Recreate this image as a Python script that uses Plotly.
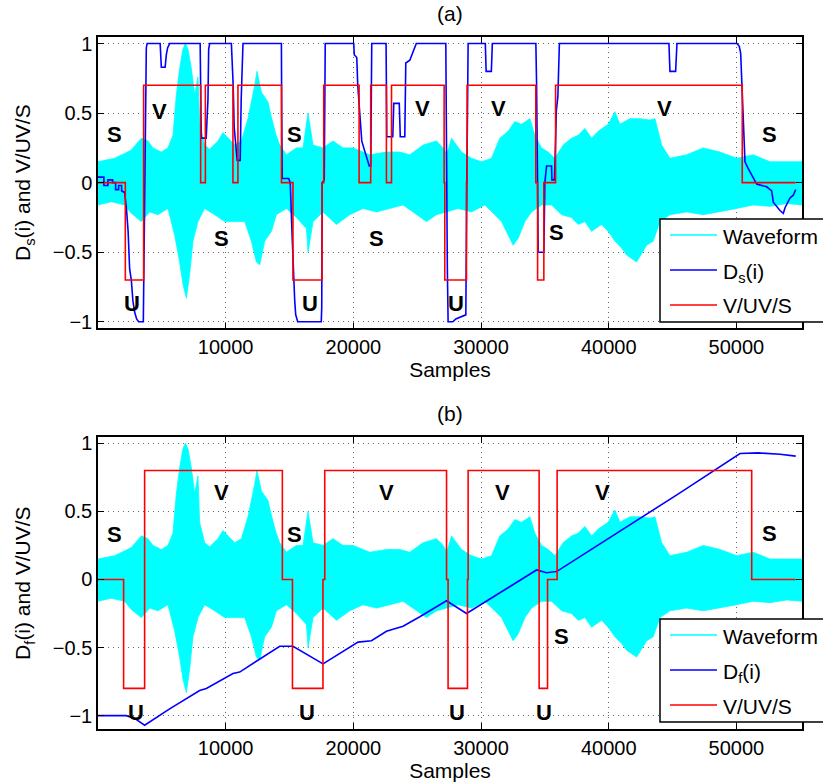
import plotly.graph_objects as go
from plotly.subplots import make_subplots

# ---------------- data ----------------
# Speech waveform drawn as upper / lower envelope (same signal in both panels)
wave_up_x = [0, 517, 1301, 2085, 2610, 3393, 3911, 4303, 4961, 5478, 5870, 6136, 6395, 6654, 6842,
             7046, 7312, 7571, 7829, 7962, 8354, 8746, 9397, 9789, 10180, 10706, 11230, 11748, 12273,
             12453, 12798, 13315, 13527, 13919, 14232, 14757, 15541, 16058, 16450, 16842, 17625, 18409,
             19193, 19976, 21285, 22594, 23636, 24420, 25463, 26513, 27030, 27320, 27688, 28472, 29255,
             30039, 30823, 31473, 32124, 32649, 33174, 33825, 34216, 34741, 35258, 35783, 36434, 37093,
             37610, 38135, 38660, 39178, 39961, 40487, 40878, 41662, 42446, 43230, 43622, 44147, 44797,
             46106, 47406, 48715, 50024, 51325, 52634, 53943, 55142]
wave_up_y = [0.15, 0.16, 0.175, 0.21, 0.235, 0.32, 0.30, 0.25, 0.22, 0.25, 0.34, 0.63, 0.82, 0.96, 1.0,
             0.96, 0.82, 0.63, 0.76, 0.42, 0.27, 0.24, 0.30, 0.36, 0.32, 0.27, 0.30, 0.46, 0.70,
             0.80, 0.65, 0.58, 0.49, 0.35, 0.27, 0.20, 0.25, 0.25, 0.50, 0.27, 0.25, 0.30,
             0.25, 0.25, 0.20, 0.22, 0.22, 0.20, 0.27, 0.30, 0.25, 0.20, 0.32, 0.22, 0.175,
             0.15, 0.175, 0.32, 0.37, 0.44, 0.42, 0.46, 0.34, 0.25, 0.22, 0.175, 0.27, 0.32,
             0.34, 0.39, 0.32, 0.37, 0.42, 0.51, 0.42, 0.46, 0.46, 0.45, 0.46, 0.27, 0.175,
             0.20, 0.25, 0.22, 0.175, 0.20, 0.15, 0.15, 0.15]
wave_lo_x = [0, 1042, 2085, 2610, 3393, 4044, 4694, 5478, 6003, 6395, 6654, 6920, 7179, 7437, 7829,
             8354, 9138, 9922, 10706, 11490, 12014, 12406, 12665, 13057, 13582, 13973, 14757, 15541,
             16325, 16450, 16842, 17625, 18676, 19718, 20760, 21811, 22853, 23895, 24945, 25729, 26513,
             27296, 28206, 29255, 30298, 31082, 31607, 32124, 32516, 32908, 33433, 33958, 34741, 35526,
             36309, 37093, 37610, 38135, 38660, 39444, 39961, 40487, 41012, 41404, 42188, 42971, 43489,
             44013, 44797, 46106, 47406, 48715, 50024, 51325, 52634, 53943, 55142]
wave_lo_y = [-0.16, -0.137, -0.16, -0.22, -0.28, -0.21, -0.23, -0.185, -0.376, -0.57, -0.73, -0.83, -0.66,
             -0.42, -0.28, -0.185, -0.23, -0.28, -0.28, -0.28, -0.42, -0.57, -0.59, -0.42, -0.35, -0.23,
             -0.185, -0.25, -0.33, -0.50, -0.28, -0.21, -0.30, -0.23, -0.185, -0.21, -0.185, -0.16, -0.23,
             -0.28, -0.23, -0.21, -0.185, -0.21, -0.16, -0.23, -0.28, -0.376, -0.45, -0.40, -0.28, -0.21,
             -0.16, -0.16, -0.23, -0.25, -0.30, -0.28, -0.35, -0.30, -0.35, -0.42, -0.47, -0.52, -0.57,
             -0.45, -0.42, -0.28, -0.23, -0.21, -0.23, -0.21, -0.185, -0.16, -0.17, -0.15, -0.16]

# Panel (a): Ds(i)
ds_x = [0, 462, 462, 776, 776, 1144, 1144, 1379, 1379, 1614, 1614, 1850, 1850, 2085,
        2241, 2359, 2477, 2610, 2735, 2868, 3025, 3182, 3550, 3613, 3691, 3785, 3848,
        4867, 4961, 5259, 5353, 5455, 5612,
        8002, 8064, 8096, 8472, 8550, 8613, 8668, 8746,
        10447, 10509, 10588, 10666, 10745, 10839, 10901, 11137, 11215, 11356,
        14365, 14389, 14428, 14937, 15055, 15212, 15290, 15408, 15486, 15643, 17485, 17524, 17563, 17720, 17798,
        20031, 20071, 20267, 20345, 20463, 20541, 20659, 20815, 20972, 21129, 21246, 21364, 21442,
        22563, 22618, 23088, 23166, 23597, 23676, 24029, 24107, 24421, 24578, 24734, 24930,
        27242, 27281, 27360, 27422, 27790, 28025, 28809, 28888, 28989,
        30337, 30400, 30808, 30886,
        34295, 34350, 34428, 34475, 34922, 35000, 35134, 35526, 35549, 35745, 35784, 35902, 36019, 36137,
        44718, 44797, 45243, 45345,
        50047, 50228, 50337, 50416, 50541, 50596, 50674, 50933, 51325, 51591, 52375, 52767, 52892,
        53159, 53417, 53676, 53809, 54201, 54460, 54648]
ds_y = [0.04, 0.04, -0.02, -0.02, 0.02, 0.02, 0.0, 0.0, -0.05, -0.05, -0.02, -0.02, -0.06, -0.07,
        -0.2, -0.35, -0.62, -0.7, -0.85, -0.93, -0.98, -1.0, -1.0, -0.4, 0.45, 0.97, 1.0,
        1.0, 0.83, 0.83, 0.92, 0.97, 1.0,
        1.0, 0.5, 0.32, 0.32, 0.55, 0.6, 0.96, 1.0,
        1.0, 0.9, 0.7, 0.4, 0.3, 0.2, 0.16, 0.16, 0.6, 1.0,
        1.0, 0.5, 0.03, 0.03, 0.0, -0.4, -0.63, -0.85, -0.95, -1.0, -1.0, -0.9, 0.0, 0.02, 1.0,
        1.0, 0.92, 0.9, 0.7, 0.55, 0.42, 0.3, 0.25, 0.2, 0.15, 0.12, 0.12, 1.0,
        1.0, 0.33, 0.33, 0.57, 0.57, 0.33, 0.33, 0.86, 0.88, 0.92, 0.95, 1.0,
        1.0, 0.0, -0.6, -1.0, -1.0, -0.98, -0.95, 0.0, 1.0,
        1.0, 0.8, 0.8, 1.0,
        1.0, 0.72, 0.0, -0.5, -0.5, 0.0, 0.12, 0.12, 0.02, 0.02, 0.12, 0.52, 0.62, 1.0,
        1.0, 0.8, 0.8, 1.0,
        1.0, 0.98, 0.93, 0.75, 0.39, 0.22, 0.15, 0.10, 0.03, -0.01, -0.03, -0.06, -0.14,
        -0.17, -0.2, -0.22, -0.18, -0.11, -0.09, -0.05]

# Panel (a): V/UV/S decision (step changes)
vus_a_x = [0, 2140, 3574, 8040, 8410, 10570, 10960, 14370, 15270, 17550, 17680, 20450, 21360,
           22590, 22990, 27110, 27160, 28860, 28910, 34290, 34430, 34920, 35840, 50460, 54640]
vus_a_y = [0, -0.7, 0.7, 0, 0.7, 0, 0.7, 0, -0.7, 0, 0.7, 0, 0.7,
           0, 0.7, 0, -0.7, 0, 0.7, 0, -0.7, 0, 0.7, 0, 0]

# Panel (b): Df(i)
df_x = [0, 2218, 2868, 3652, 5611, 7962, 8487, 10572, 11097, 14232, 15274, 17625, 20369, 21419,
        22594, 23895, 25204, 27296, 28864, 31866, 34350, 35134, 35918, 45582, 50284, 51718, 53419, 54648]
df_y = [-1.0, -1.0, -1.02, -1.07, -0.95, -0.815, -0.8, -0.69, -0.68, -0.49, -0.49, -0.62, -0.46, -0.45,
        -0.38, -0.343, -0.274, -0.156, -0.25, -0.077, 0.07, 0.05, 0.058, 0.636, 0.925, 0.93, 0.92, 0.906]

# Panel (b): V/UV/S decision
vus_b_x = [0, 2006, 3652, 14440, 15230, 17620, 17760, 27300, 27420, 28940, 28990, 34550, 35210,
           35960, 51200, 54640]
vus_b_y = [0, -0.8, 0.8, 0, -0.8, 0, 0.8, 0, -0.8, 0, 0.8, -0.8, 0, 0.8, 0, 0]

# Region labels
lab_a_text = ["S", "V", "S", "V", "V", "V", "S", "S", "S", "S", "U", "U", "U"]
lab_a_x = [1300, 4830, 15390, 25440, 31400, 44400, 52600, 9700, 21820, 35950, 2700, 16590, 28020]
lab_a_y = [0.343, 0.51, 0.343, 0.536, 0.536, 0.536, 0.343, -0.40, -0.40, -0.36, -0.87, -0.87, -0.87]
lab_b_text = ["S", "V", "S", "V", "V", "V", "S", "U", "U", "U", "U", "S"]
lab_b_x = [1300, 9700, 15390, 22600, 31700, 39500, 52600, 2950, 16400, 28100, 34920, 36330]
lab_b_y = [0.33, 0.64, 0.33, 0.64, 0.64, 0.64, 0.34, -0.98, -0.98, -0.98, -0.98, -0.42]

legend_a = ["Waveform", "D<sub>s</sub>(i)", "V/UV/S"]
legend_b = ["Waveform", "D<sub>f</sub>(i)", "V/UV/S"]

x_ticks = [10000, 20000, 30000, 40000, 50000]
y_ticks = [-1, -0.5, 0, 0.5, 1]

# ---------------- figure ----------------
FONT = "Liberation Sans, Arial, Helvetica, sans-serif"
CYAN, BLUE, RED = "#00FFFF", "#0000FF", "#FF0000"
W, H = 823, 784
ML, MR, MT, MB = 98, 21, 37, 55
PW, PH = W - ML - MR, H - MT - MB


def px2paper(px, py):
    return (px - ML) / PW, 1 - (py - MT) / PH


fig = make_subplots(rows=2, cols=1, vertical_spacing=0.1575)

poly_x = wave_up_x + wave_lo_x[::-1]
poly_y = wave_up_y + wave_lo_y[::-1]

for row, (lx, ly, lname, vx, vy) in enumerate([
        (ds_x, ds_y, "Ds(i)", vus_a_x, vus_a_y),
        (df_x, df_y, "Df(i)", vus_b_x, vus_b_y)], start=1):
    fig.add_trace(go.Scatter(x=poly_x, y=poly_y, mode="lines", fill="toself", name="Waveform",
                             fillcolor=CYAN, line=dict(color=CYAN, width=0.8),
                             showlegend=False, hoverinfo="skip"), row=row, col=1)
    fig.add_trace(go.Scatter(x=lx, y=ly, mode="lines", name=lname, showlegend=False,
                             line=dict(color=BLUE, width=1.6)), row=row, col=1)
    fig.add_trace(go.Scatter(x=vx, y=vy, mode="lines", name="V/UV/S", line_shape="hv",
                             showlegend=False, line=dict(color=RED, width=1.6)), row=row, col=1)

for texts, xs, ys, row in [(lab_a_text, lab_a_x, lab_a_y, 1), (lab_b_text, lab_b_x, lab_b_y, 2)]:
    for t, x, y in zip(texts, xs, ys):
        fig.add_annotation(x=x, y=y, text=f"<b>{t}</b>", showarrow=False,
                           font=dict(size=22, color="black", family=FONT),
                           xref=f"x{'' if row == 1 else row}", yref=f"y{'' if row == 1 else row}")

axis_common = dict(showline=True, linecolor="black", linewidth=1.5, mirror="ticks",
                   ticks="inside", ticklen=6, tickcolor="black", tickwidth=1,
                   showgrid=True, gridcolor="#666666", griddash="1px,4px", gridwidth=1,
                   zeroline=False, tickfont=dict(size=20, family=FONT, color="black"))

for row in (1, 2):
    fig.update_xaxes(range=[0, 55140], tickvals=x_ticks, tickformat="d",
                     title=dict(text="Samples", font=dict(size=21, family=FONT, color="black"),
                                standoff=0),
                     row=row, col=1, **axis_common)
fig.update_yaxes(range=[-1.047, 1.047], tickvals=y_ticks, row=1, col=1,
                 title=dict(text="D<sub>s</sub>(i) and V/UV/S",
                            font=dict(size=21, family=FONT, color="black"), standoff=16),
                 **axis_common)
fig.update_yaxes(range=[-1.098, 1.044], tickvals=y_ticks, row=2, col=1,
                 title=dict(text="D<sub>f</sub>(i) and V/UV/S",
                            font=dict(size=21, family=FONT, color="black"), standoff=16),
                 **axis_common)

fig.update_layout(yaxis=dict(domain=[0.579, 1.0]), yaxis2=dict(domain=[0.0, 0.4215]))

fig.add_annotation(text="(a)", x=0.5, y=1.0345, xref="paper", yref="paper", showarrow=False,
                   yanchor="middle", font=dict(size=21, family=FONT, color="black"))
fig.add_annotation(text="(b)", x=0.5, y=0.4566, xref="paper", yref="paper", showarrow=False,
                   yanchor="middle", font=dict(size=21, family=FONT, color="black"))

# ---- legends drawn as boxed keys (MATLAB style, box runs off the right edge) ----
for top, labels in [(219, legend_a), (619, legend_b)]:
    x0, y0 = px2paper(660, top)
    x1, y1 = px2paper(840, top + 103)
    fig.add_shape(type="rect", xref="paper", yref="paper", x0=x0, x1=x1, y0=y1, y1=y0,
                  fillcolor="white", line=dict(color="black", width=1.5), layer="above")
    for k, (lab, col) in enumerate(zip(labels, [CYAN, BLUE, RED])):
        ly_px = top + 16 + 35 * k
        lx0, lyy = px2paper(670, ly_px)
        lx1, _ = px2paper(717, ly_px)
        fig.add_shape(type="line", xref="paper", yref="paper", x0=lx0, x1=lx1, y0=lyy, y1=lyy,
                      line=dict(color=col, width=1.6), layer="above")
        tx, ty = px2paper(721, ly_px + (3 if "sub" in lab else 1))
        fig.add_annotation(text=lab, x=tx, y=ty, xref="paper", yref="paper", showarrow=False,
                           xanchor="left", yanchor="middle",
                           font=dict(size=21, family=FONT, color="black"))

fig.update_layout(
    width=W, height=H,
    margin=dict(l=ML, r=MR, t=MT, b=MB),
    paper_bgcolor="white", plot_bgcolor="white",
    font=dict(family=FONT, color="black"),
    showlegend=False,
)

fig.write_html("out.html")
